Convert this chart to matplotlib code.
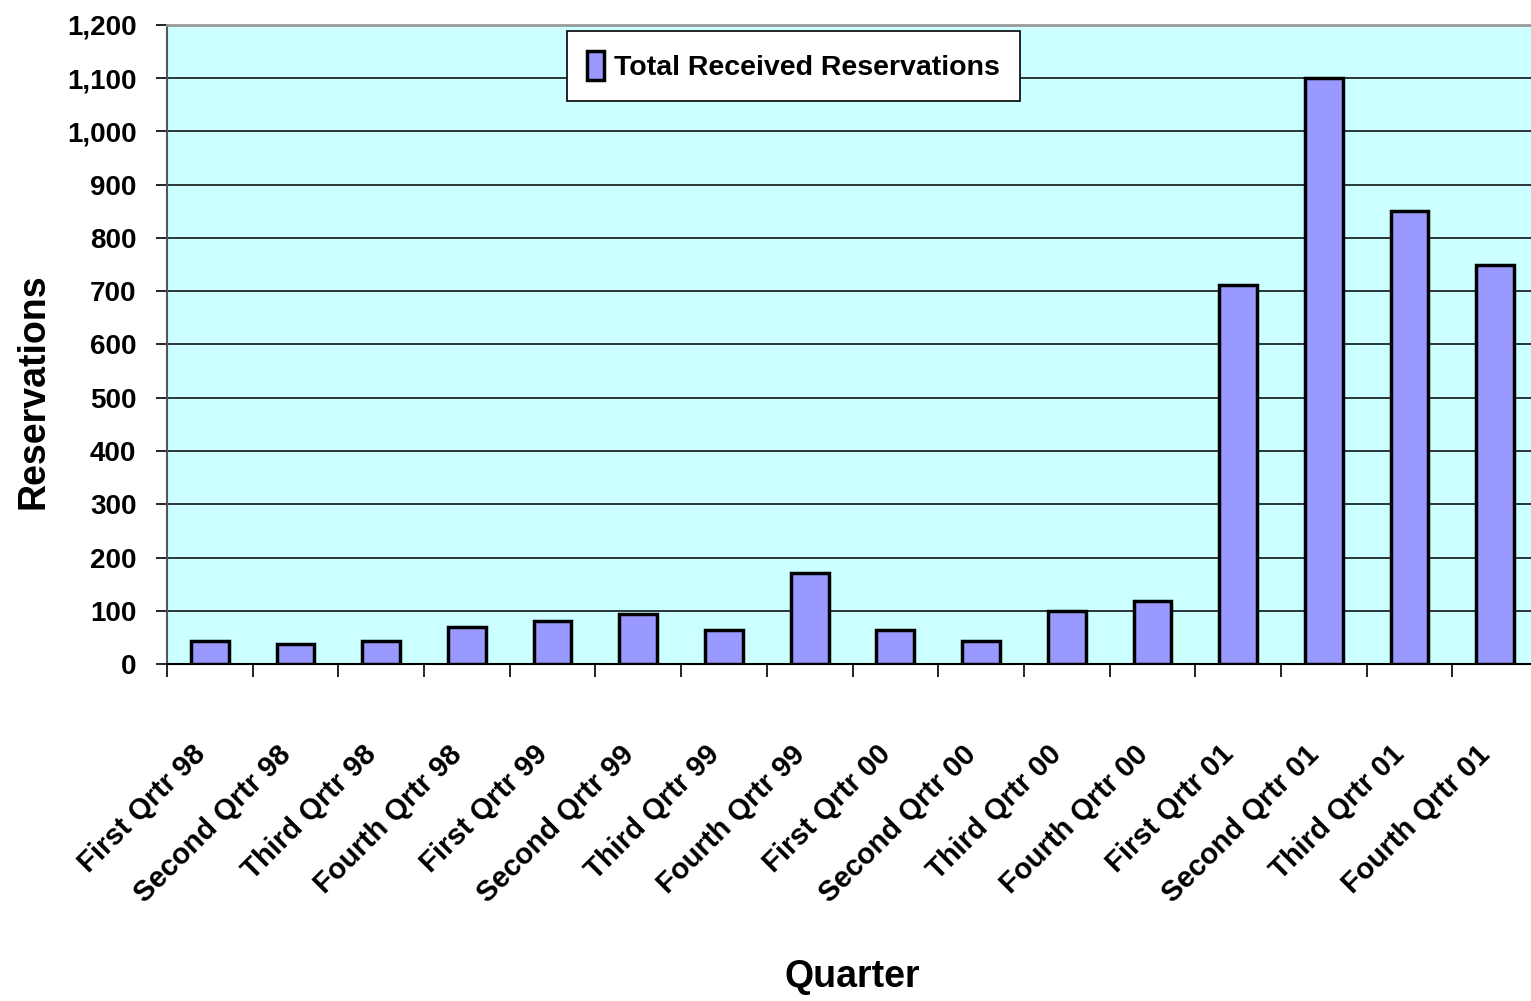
import matplotlib
matplotlib.use("Agg")
import matplotlib.pyplot as plt
import numpy as np
from matplotlib.ticker import FuncFormatter, MultipleLocator
from matplotlib.transforms import ScaledTranslation

plt.rcParams['font.family'] = ['Liberation Sans', 'DejaVu Sans']
plt.rcParams['font.weight'] = 'bold'

quarters = ["First Qrtr 98", "Second Qrtr 98", "Third Qrtr 98", "Fourth Qrtr 98",
            "First Qrtr 99", "Second Qrtr 99", "Third Qrtr 99", "Fourth Qrtr 99",
            "First Qrtr 00", "Second Qrtr 00", "Third Qrtr 00", "Fourth Qrtr 00",
            "First Qrtr 01", "Second Qrtr 01", "Third Qrtr 01", "Fourth Qrtr 01"]
reservations = [44, 38, 44, 69, 81, 94, 63, 170,
                63, 44, 100, 119, 712, 1100, 851, 750]

fig = plt.figure(figsize=(15.31, 10.01), dpi=100)
ax = fig.add_axes([167/1531, 1 - 664/1001, 1371/1531, 639/1001])
ax.set_facecolor("#CCFFFF")

x = np.arange(len(quarters))
ax.bar(x, reservations, width=0.44, color="#9999FF", edgecolor="black",
       linewidth=2.5, label="Total Received Reservations", zorder=3)

ax.set_xlim(-0.5, len(quarters) - 0.5)
ax.set_ylim(0, 1200)
ax.yaxis.set_major_locator(MultipleLocator(100))
ax.yaxis.set_major_formatter(FuncFormatter(lambda v, p: f"{int(v):,}"))
ax.grid(axis="y", color="black", linewidth=1.1, zorder=1)

# x ticks between categories, labels at category centres
ax.set_xticks(np.arange(-0.5, len(quarters), 1.0), minor=False)
ax.set_xticklabels([])
ax.set_xticks(x, minor=True)
ax.set_xticklabels(quarters, minor=True, rotation=45, ha="right",
                   rotation_mode="anchor", va="center", fontsize=21)
ax.tick_params(axis="x", which="major", length=9, width=1.2, direction="out")
ax.tick_params(axis="x", which="minor", length=0, pad=62)
shift = ScaledTranslation(-9/100, 0, fig.dpi_scale_trans)
for lab in ax.get_xticklabels(minor=True):
    lab.set_transform(lab.get_transform() + shift)
ax.tick_params(axis="y", length=8, width=1.2, labelsize=20, pad=14)

for s in ["top", "right"]:
    ax.spines[s].set_visible(False)
ax.spines["left"].set_color("#555555")
ax.spines["left"].set_linewidth(1.5)
ax.spines["bottom"].set_linewidth(1.5)
ax.axhline(1200, color="#999999", linewidth=2, zorder=4, clip_on=False)

ax.set_ylabel("Reservations", fontsize=27, fontweight="bold")
ax.yaxis.set_label_coords(-0.0846, 0.427)
fig.text(852/1531, 1 - 977/1001, "Quarter", fontsize=27, fontweight="bold",
         ha="center", va="center")

leg = ax.legend(loc="upper left", bbox_to_anchor=((567-167)/1371, 1 - (31-25)/639),
                fontsize=20.5, frameon=True, fancybox=False, edgecolor="black",
                framealpha=1, handlelength=0.6, handleheight=1.2, handletextpad=0.35,
                borderpad=0.7, borderaxespad=0)
leg.get_frame().set_linewidth(1.2)

fig.savefig("out.png", dpi=100, facecolor="white")
